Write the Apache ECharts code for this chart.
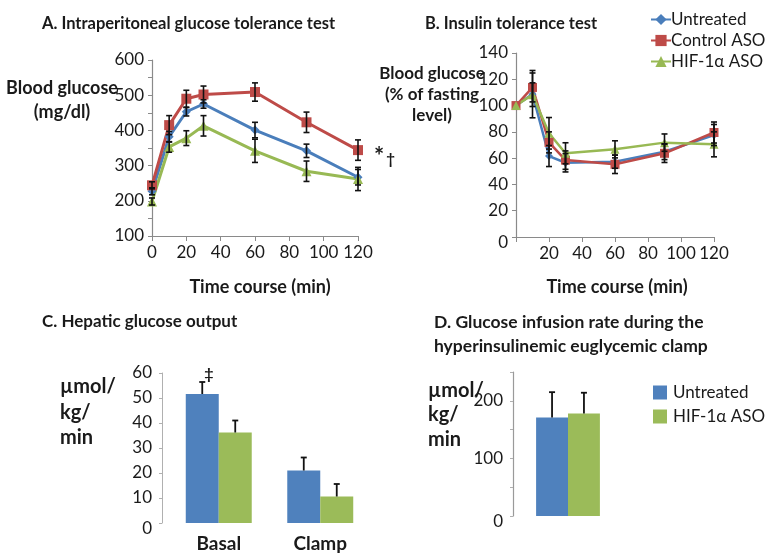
<!DOCTYPE html>
<html><head><meta charset="utf-8">
<script src="https://cdn.jsdelivr.net/npm/echarts@6/dist/echarts.min.js"></script>
<style>html,body{margin:0;padding:0;background:#fff}#c{width:768px;height:554px}</style>
</head><body><div id="c"></div>
<script>
// ---- data ----
const times = [0, 10, 20, 30, 60, 90, 120];
const ipgttUntreated = [227, 382, 453, 475, 401, 342, 267];
const ipgttControl   = [244, 415, 490, 502, 509, 423, 344];
const ipgttHif       = [198, 353, 378, 413, 342, 284, 262];
const ipgttUntreatedErr = [10, 15, 12, 12, 22, 19, 22];
const ipgttControlErr   = [10, 27, 24, 24, 26, 29, 29];
const ipgttHifErr       = [10, 15, 21, 29, 33, 29, 33];

const ittUntreated = [100, 108.7, 61.6, 56.5, 57.3, 64.9, 77.6];
const ittControl   = [100, 113.8, 72, 58.5, 55.3, 63.7, 79.5];
const ittHif       = [100, 108.3, 78.9, 63.7, 66.7, 71.8, 70.5];
const ittUntreatedErr = [0, 18, 8, 7, 5, 6, 8];
const ittControlErr   = [0, 11, 8, 7, 7, 7, 8];
const ittHifErr       = [0, 9, 12, 8, 6.5, 6.6, 9.5];

const hgoCategories = ['Basal', 'Clamp'];
const hgoUntreated = [51.6, 21.0];
const hgoHif = [36.2, 10.6];
const hgoUntreatedErr = [4.8, 5.2];
const hgoHifErr = [4.8, 5.0];

const girCategories = [''];
const girUntreated = [171];
const girHif = [178];
const girUntreatedErr = [44];
const girHifErr = [36];

const lineNames = ['Untreated', 'Control ASO', 'HIF-1\u03b1 ASO'];
const barNames = ['Untreated ', 'HIF-1\u03b1 ASO '];

// ---- styles ----
const FONT = 'Lato';
const TXT = '#1a1a1a';
const AX = '#8a8a8a';
const C_BLUE = '#4a7ebb', C_RED = '#be4b48', C_GREEN = '#98b954';
const B_BLUE = '#4f81bd', B_GREEN = '#9bbb59';

function pts(vals) { return times.map((t, i) => [t, vals[i]]); }
function errPts(vals, errs) { return times.map((t, i) => [t, vals[i], errs[i]]); }

function lineErr(params, api) {
  const x = api.value(0), y = api.value(1), e = api.value(2);
  if (!e) return null;
  const t = api.coord([x, y + e]), b = api.coord([x, y - e]);
  const st = { stroke: '#111', lineWidth: 1.6 };
  return { type: 'group', children: [
    { type: 'line', shape: { x1: t[0], y1: t[1], x2: b[0], y2: b[1] }, style: st },
    { type: 'line', shape: { x1: t[0] - 3, y1: t[1], x2: t[0] + 3, y2: t[1] }, style: st },
    { type: 'line', shape: { x1: b[0] - 3, y1: b[1], x2: b[0] + 3, y2: b[1] }, style: st }
  ]};
}
function barErr(gap) {
  return function (params, api) {
    const cat = api.value(0), v = api.value(1), e = api.value(2), k = api.value(3);
    const c = api.coord([cat, v]);
    const top = api.coord([cat, v + e]);
    const catW = api.size([1, 0])[0];
    const bw = catW * (1 - gap) / 2;
    const x = c[0] + (k === 0 ? -bw / 2 : bw / 2);
    const st = { stroke: '#111', lineWidth: 1.8 };
    return { type: 'group', children: [
      { type: 'line', shape: { x1: x, y1: c[1], x2: x, y2: top[1] }, style: st },
      { type: 'line', shape: { x1: x - 3, y1: top[1], x2: x + 3, y2: top[1] }, style: st }
    ]};
  };
}

const axisBase = {
  axisLine: { show: true, lineStyle: { color: AX, width: 1.2 } },
  axisTick: { show: true, length: 4, lineStyle: { color: AX } },
  splitLine: { show: false },
  axisLabel: { color: TXT, fontFamily: FONT, fontSize: 17 }
};
const zeroRich = { z: { fontFamily: FONT, fontSize: 17, color: TXT, padding: [12, 0, 0, 0] } };

function txt(text, left, top, size, bold, align) {
  return { text, left, top, textAlign: align || 'left',
    textStyle: { fontFamily: FONT, fontSize: size, fontWeight: bold ? 'bold' : 'normal', color: TXT, lineHeight: size + 7 } };
}
function boldText(text, left, top, size, lh, align) {
  return { text, left, top, textAlign: align || 'left',
    textStyle: { fontFamily: FONT, fontSize: size, fontWeight: 'bold', color: TXT, lineHeight: lh, align: align || 'left' } };
}

const chart = echarts.init(document.getElementById('c'), null, { renderer: 'canvas' });
chart.setOption({
  animation: false,
  backgroundColor: '#fff',
  textStyle: { fontFamily: FONT },
  title: [
    txt('A. Intraperitoneal glucose tolerance test', 37, 7, 16.5, true),
    txt('B. Insulin tolerance test', 420, 7, 16.5, true),
    txt('C. Hepatic glucose output', 37, 305, 17, true),
    { text: 'D. Glucose infusion rate during the\nhyperinsulinemic euglycemic clamp', left: 429, top: 305,
      textStyle: { fontFamily: FONT, fontSize: 17.5, fontWeight: 'bold', color: TXT, lineHeight: 24 } },
    boldText('Blood glucose\n(mg/dl)', 57, 71, 18, 24, 'center'),
    boldText('Blood glucose\n(% of fasting\nlevel)', 427, 58, 17, 21, 'center'),
    boldText('Time course (min)', 255, 270, 18, 24, 'center'),
    boldText('Time course (min)', 612, 270, 18, 24, 'center'),
    boldText('\u00b5mol/\nkg/\nmin', 55, 369, 20, 25.5),
    boldText('\u00b5mol/\nkg/\nmin', 423, 373, 20, 24.5),
    { text: '{a|*}{b|\u2020}', left: 369, top: 140,
      textStyle: { rich: { a: { fontFamily: FONT, fontSize: 24, color: TXT }, b: { fontFamily: FONT, fontSize: 15, color: TXT, padding: [4, 0, 0, 2] } } } },
    { text: '\u2021', left: 204, top: 361, textAlign: 'center',
      textStyle: { fontFamily: FONT, fontSize: 16, color: TXT } }
  ],
  legend: [
    { data: lineNames, orient: 'vertical', left: 645, top: 6, itemGap: 4, itemWidth: 20, itemHeight: 14,
      textStyle: { fontFamily: FONT, fontSize: 17, color: TXT, padding: [0, 0, 0, -5] }, selectedMode: false },
    { data: barNames, orient: 'vertical', left: 648, top: 379, itemGap: 7, itemWidth: 14, itemHeight: 14,
      formatter: n => n.trim(), icon: 'rect',
      textStyle: { fontFamily: FONT, fontSize: 17, color: TXT, padding: [0, 0, 0, 1] }, selectedMode: false }
  ],
  grid: [
    { left: 152, top: 60, width: 206, height: 176 },
    { left: 516, top: 53, width: 198, height: 184 },
    { left: 168, top: 373, width: 203, height: 150 },
    { left: 513, top: 372, width: 110, height: 144 }
  ],
  xAxis: [
    Object.assign({}, axisBase, { gridIndex: 0, type: 'value', min: 0, max: 120, interval: 20,
      axisTick: { show: true, length: 5, lineStyle: { color: AX } },
      axisLabel: Object.assign({}, axisBase.axisLabel, { margin: 8 }) }),
    Object.assign({}, axisBase, { gridIndex: 1, type: 'value', min: 0, max: 120, interval: 20,
      axisTick: { show: true, length: 5, lineStyle: { color: AX } },
      axisLabel: Object.assign({}, axisBase.axisLabel, { margin: 8, formatter: v => v === 0 ? '' : v }) }),
    { gridIndex: 2, type: 'category', data: hgoCategories, axisLine: { show: false }, axisTick: { show: false },
      axisLabel: { color: TXT, fontFamily: FONT, fontSize: 19, fontWeight: 'bold', margin: 11 } },
    { gridIndex: 3, type: 'category', data: girCategories, axisLine: { show: false }, axisTick: { show: false },
      axisLabel: { show: false } }
  ],
  yAxis: [
    Object.assign({}, axisBase, { gridIndex: 0, type: 'value', min: 100, max: 600, interval: 100,
      minorTick: { show: true, splitNumber: 2, length: 4, lineStyle: { color: AX } },
      axisLabel: Object.assign({}, axisBase.axisLabel, { margin: 8 }) }),
    Object.assign({}, axisBase, { gridIndex: 1, type: 'value', min: 0, max: 140, interval: 20,
      axisLabel: Object.assign({}, axisBase.axisLabel, { margin: 8, rich: zeroRich,
        formatter: v => v === 0 ? '{z|0}' : v }) }),
    Object.assign({}, axisBase, { gridIndex: 2, type: 'value', min: 0, max: 60, interval: 10, offset: 6,
      axisLine: { show: true, lineStyle: { color: '#b0b0b0', width: 1 } },
      axisTick: { show: true, length: 3, lineStyle: { color: '#b0b0b0' } },
      axisLabel: Object.assign({}, axisBase.axisLabel, { margin: 10, rich: zeroRich,
        formatter: v => v === 0 ? '{z|0}' : v }) }),
    Object.assign({}, axisBase, { gridIndex: 3, type: 'value', min: 0, max: 250, interval: 50,
      axisLine: { show: true, lineStyle: { color: '#9a9a9a', width: 1.2 } },
      axisTick: { show: true, length: 3, lineStyle: { color: '#b0b0b0' } },
      axisLabel: Object.assign({}, axisBase.axisLabel, { margin: 10, rich: zeroRich,
        formatter: v => v === 0 ? '{z|0}' : (v % 100 === 0 ? v : '') }) })
  ],
  series: [
    // Panel A
    { name: lineNames[0], type: 'line', xAxisIndex: 0, yAxisIndex: 0, data: pts(ipgttUntreated), color: C_BLUE,
      symbol: 'diamond', symbolSize: 9, lineStyle: { width: 3 } },
    { name: lineNames[1], type: 'line', xAxisIndex: 0, yAxisIndex: 0, data: pts(ipgttControl), color: C_RED,
      symbol: 'rect', symbolSize: 10, lineStyle: { width: 3 } },
    { name: lineNames[2], type: 'line', xAxisIndex: 0, yAxisIndex: 0, data: pts(ipgttHif), color: C_GREEN,
      symbol: 'triangle', symbolSize: 10, lineStyle: { width: 3 } },
    { type: 'custom', xAxisIndex: 0, yAxisIndex: 0, renderItem: lineErr, data: errPts(ipgttUntreated, ipgttUntreatedErr), z: 5 },
    { type: 'custom', xAxisIndex: 0, yAxisIndex: 0, renderItem: lineErr, data: errPts(ipgttControl, ipgttControlErr), z: 5 },
    { type: 'custom', xAxisIndex: 0, yAxisIndex: 0, renderItem: lineErr, data: errPts(ipgttHif, ipgttHifErr), z: 5 },
    // Panel B
    { name: lineNames[0], type: 'line', xAxisIndex: 1, yAxisIndex: 1, data: pts(ittUntreated), color: C_BLUE,
      symbol: 'diamond', symbolSize: 8, lineStyle: { width: 2.5 } },
    { name: lineNames[1], type: 'line', xAxisIndex: 1, yAxisIndex: 1, data: pts(ittControl), color: C_RED,
      symbol: 'rect', symbolSize: 9, lineStyle: { width: 2.5 } },
    { name: lineNames[2], type: 'line', xAxisIndex: 1, yAxisIndex: 1, data: pts(ittHif), color: C_GREEN,
      symbol: 'triangle', symbolSize: 9, lineStyle: { width: 2.5 } },
    { type: 'custom', xAxisIndex: 1, yAxisIndex: 1, renderItem: lineErr, data: errPts(ittUntreated, ittUntreatedErr), z: 5 },
    { type: 'custom', xAxisIndex: 1, yAxisIndex: 1, renderItem: lineErr, data: errPts(ittControl, ittControlErr), z: 5 },
    { type: 'custom', xAxisIndex: 1, yAxisIndex: 1, renderItem: lineErr, data: errPts(ittHif, ittHifErr), z: 5 },
    // Panel C
    { name: barNames[0], type: 'bar', xAxisIndex: 2, yAxisIndex: 2, data: hgoUntreated, color: B_BLUE,
      barGap: '0%', barCategoryGap: '35%' },
    { name: barNames[1], type: 'bar', xAxisIndex: 2, yAxisIndex: 2, data: hgoHif, color: B_GREEN,
      barGap: '0%', barCategoryGap: '35%' },
    { type: 'custom', xAxisIndex: 2, yAxisIndex: 2, renderItem: barErr(0.35), z: 5,
      data: hgoCategories.map((c, i) => [i, hgoUntreated[i], hgoUntreatedErr[i], 0]) },
    { type: 'custom', xAxisIndex: 2, yAxisIndex: 2, renderItem: barErr(0.35), z: 5,
      data: hgoCategories.map((c, i) => [i, hgoHif[i], hgoHifErr[i], 1]) },
    // Panel D
    { name: barNames[0], type: 'bar', xAxisIndex: 3, yAxisIndex: 3, data: girUntreated, color: B_BLUE,
      barGap: '0%', barCategoryGap: '42%' },
    { name: barNames[1], type: 'bar', xAxisIndex: 3, yAxisIndex: 3, data: girHif, color: B_GREEN,
      barGap: '0%', barCategoryGap: '42%' },
    { type: 'custom', xAxisIndex: 3, yAxisIndex: 3, renderItem: barErr(0.42), z: 5,
      data: girCategories.map((c, i) => [i, girUntreated[i], girUntreatedErr[i], 0]) },
    { type: 'custom', xAxisIndex: 3, yAxisIndex: 3, renderItem: barErr(0.42), z: 5,
      data: girCategories.map((c, i) => [i, girHif[i], girHifErr[i], 1]) }
  ]
});
</script></body></html>
